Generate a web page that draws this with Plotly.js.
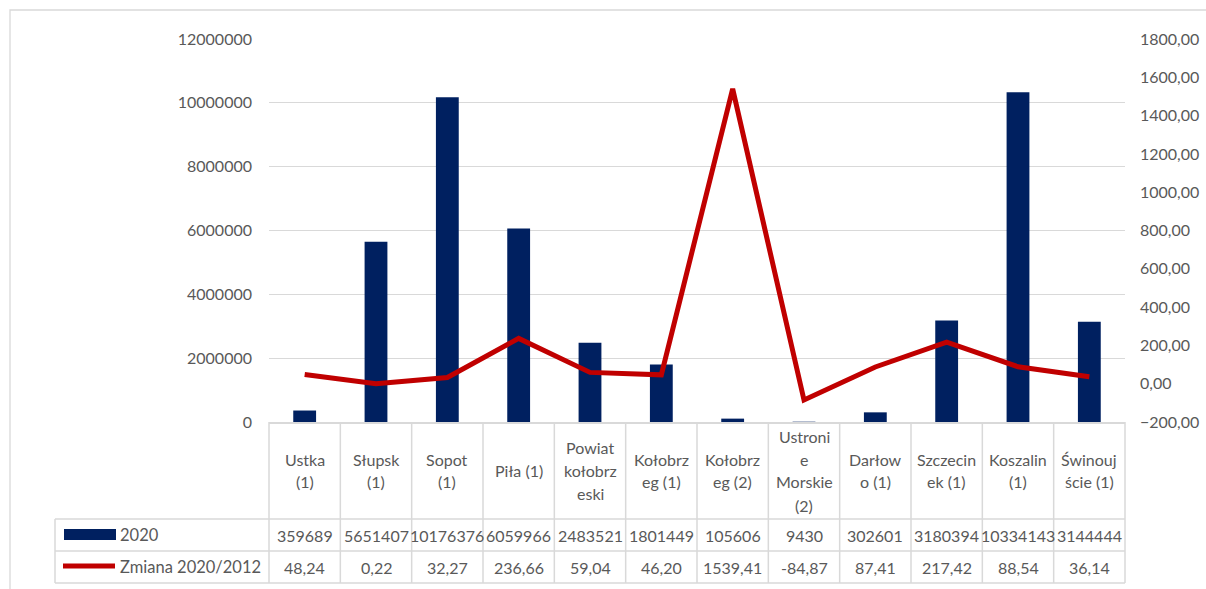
<!DOCTYPE html>
<html>
<head>
<meta charset="utf-8">
<script src="https://cdn.plot.ly/plotly-3.0.1.min.js"></script>
<style>html,body{margin:0;padding:0;background:#fff;}#chart{width:1206px;height:589px;}</style>
</head>
<body>
<div id="chart"></div>
<script>
// ---- data ----
var categories = ['Ustka (1)', 'Słupsk (1)', 'Sopot (1)', 'Piła (1)', 'Powiat kołobrzeski', 'Kołobrzeg (1)', 'Kołobrzeg (2)', 'Ustronie Morskie (2)', 'Darłowo (1)', 'Szczecinek (1)', 'Koszalin (1)', 'Świnoujście (1)'];
var tickLabels = ['Ustka\n(1)', 'Słupsk\n(1)', 'Sopot\n(1)', 'Piła (1)', 'Powiat\nkołobrz\neski', 'Kołobrz\neg (1)', 'Kołobrz\neg (2)', 'Ustroni\ne\nMorskie\n(2)', 'Darłow\no (1)', 'Szczecin\nek (1)', 'Koszalin\n(1)', 'Świnouj\nście (1)'];
var seriesBarName = '2020';
var values2020 = [359689, 5651407, 10176376, 6059966, 2483521, 1801449, 105606, 9430, 302601, 3180394, 10334143, 3144444];
var seriesLineName = 'Zmiana 2020/2012';
var change = [48.24, 0.22, 32.27, 236.66, 59.04, 46.20, 1539.41, -84.87, 87.41, 217.42, 88.54, 36.14];

// ---- layout helpers ----
var W = 1206, H = 589;
var mL = 269, mR = 81, mT = 39, mB = 167;
var plotW = W - mL - mR, plotH = H - mT - mB;
function px2x(p) { return (p - mL) / plotW; }
function py2y(p) { return (H - mB - p) / plotH; }

var barColor = '#002060', lineColor = '#C00000', gridColor = '#D9D9D9', textColor = '#595959';
var font = 'Lato, "Open Sans", sans-serif';
var tableSize = 16;

var n = categories.length;
var shapes = [], annotations = [];

// outer chart border
shapes.push({type: 'rect', xref: 'paper', yref: 'paper', x0: px2x(10), x1: px2x(W + 20), y0: py2y(H + 20), y1: py2y(10), line: {color: gridColor, width: 1.3}, layer: 'below'});

// table grid
var yHead = py2y(422), yR1 = py2y(519), yR2 = py2y(551), yR3 = py2y(583);
var xLeg = px2x(55);
for (var i = 0; i <= n; i++) {
  shapes.push({type: 'line', xref: 'paper', yref: 'paper', x0: i / n, x1: i / n, y0: yHead, y1: yR3, line: {color: gridColor, width: 1.5}});
}
[yR1, yR2, yR3].forEach(function (yy) {
  shapes.push({type: 'line', xref: 'paper', yref: 'paper', x0: xLeg, x1: 1, y0: yy, y1: yy, line: {color: gridColor, width: 1.5}});
});
shapes.push({type: 'line', xref: 'paper', yref: 'paper', x0: xLeg, x1: xLeg, y0: yR1, y1: yR3, line: {color: gridColor, width: 1.5}});

// legend keys in table
shapes.push({type: 'rect', xref: 'paper', yref: 'paper', x0: px2x(64), x1: px2x(116), y0: py2y(540), y1: py2y(529), fillcolor: barColor, line: {width: 0}});
shapes.push({type: 'line', xref: 'paper', yref: 'paper', x0: px2x(63), x1: px2x(115), y0: py2y(566), y1: py2y(566), line: {color: lineColor, width: 5}});
annotations.push({xref: 'paper', yref: 'paper', x: px2x(118), y: py2y(535), xanchor: 'left', yanchor: 'middle', text: seriesBarName, showarrow: false, font: {family: font, size: 16.5, color: textColor}});
annotations.push({xref: 'paper', yref: 'paper', x: px2x(118), y: py2y(567), xanchor: 'left', yanchor: 'middle', text: seriesLineName, showarrow: false, font: {family: font, size: 16.5, color: textColor}});

// category header labels (one annotation per wrapped line)
var lineH = 23, headCenter = (422 + 519) / 2;
tickLabels.forEach(function (lab, i) {
  var lines = lab.split('\n');
  lines.forEach(function (ln, k) {
    var cy = headCenter + (k - (lines.length - 1) / 2) * lineH;
    annotations.push({xref: 'x', yref: 'paper', x: categories[i], y: py2y(cy), xanchor: 'center', yanchor: 'middle', text: ln, showarrow: false, font: {family: font, size: tableSize, color: textColor}});
  });
});

// table values
categories.forEach(function (c, i) {
  annotations.push({xref: 'x', yref: 'paper', x: c, y: py2y(535), xanchor: 'center', yanchor: 'middle', text: String(values2020[i]), showarrow: false, font: {family: font, size: tableSize, color: textColor}});
  annotations.push({xref: 'x', yref: 'paper', x: c, y: py2y(567), xanchor: 'center', yanchor: 'middle', text: change[i].toFixed(2).replace('.', ','), showarrow: false, font: {family: font, size: tableSize, color: textColor}});
});

var traces = [
  {type: 'bar', name: seriesBarName, x: categories, y: values2020, marker: {color: barColor}, yaxis: 'y', hoverinfo: 'none'},
  {type: 'scatter', mode: 'lines', name: seriesLineName, x: categories, y: change, yaxis: 'y2', line: {color: lineColor, width: 5}, hoverinfo: 'none'}
];

var layout = {
  width: W, height: H,
  margin: {l: mL, r: mR, t: mT, b: mB, pad: 0},
  paper_bgcolor: '#fff', plot_bgcolor: '#fff',
  showlegend: false,
  separators: ', ',
  bargap: 0.68,
  font: {family: font, size: 16, color: textColor},
  xaxis: {type: 'category', showticklabels: false, ticks: '', showgrid: false, zeroline: false, showline: true, linecolor: gridColor, linewidth: 1.5, range: [-0.5, n - 0.5], fixedrange: true},
  yaxis: {range: [0, 12000000], dtick: 2000000, tick0: 0, tickformat: 'd', showgrid: true, gridcolor: gridColor, gridwidth: 1.3, zeroline: false, showline: false, ticks: '', ticklabelstandoff: 16, tickfont: {family: font, size: 16, color: textColor}},
  yaxis2: {overlaying: 'y', side: 'right', range: [-200, 1800], dtick: 200, tick0: 0, tickformat: '.2f', showgrid: false, zeroline: false, showline: false, ticks: '', ticklabelstandoff: 14, tickfont: {family: font, size: 16, color: textColor}},
  shapes: shapes,
  annotations: annotations
};

Plotly.newPlot('chart', traces, layout, {displayModeBar: false, staticPlot: true});
</script>
</body>
</html>
